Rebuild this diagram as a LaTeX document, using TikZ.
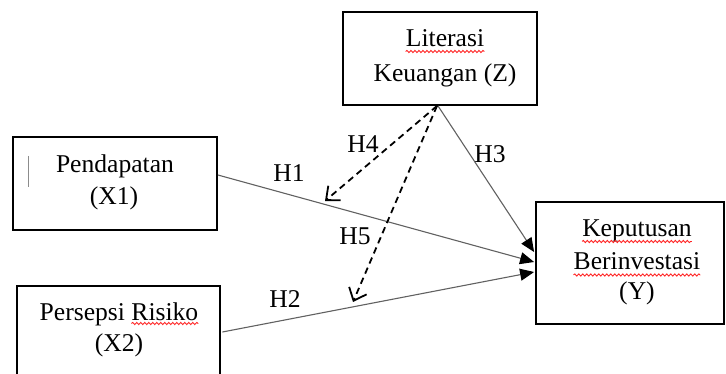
\documentclass[tikz,border=0pt]{standalone}
\usepackage{fontspec}
\setmainfont{Liberation Serif}
\usetikzlibrary{arrows.meta,calc,decorations.pathmorphing}

\tikzset{
  varbox/.style={draw=black, line width=1.8pt, inner sep=0pt, fill=none},
  txt/.style={inner sep=0pt, anchor=base, font=\fontsize{25.6}{30}\selectfont},
  hlabel/.style={inner sep=0pt, anchor=base, font=\fontsize{25.6}{30}\selectfont},
  effect/.style={draw=black!62, line width=1.1pt,
    -{Triangle[length=14pt,width=12pt,color=black]}},
  moderate/.style={draw=black, line width=1.8pt, dash pattern=on 6.5pt off 4.5pt,
    -{Straight Barb[length=11pt,width=19pt,line width=1.8pt]}},
  spellwave/.style={draw=red!85, line width=0.9pt,
    decorate, decoration={snake, segment length=4pt, amplitude=1.1pt}},
}

\begin{document}
\begin{tikzpicture}[x=1pt,y=-1pt]
\useasboundingbox (0,0) rectangle (726,374);
\clip (0,0) rectangle (726,374);

% variable boxes
\node[varbox, minimum width=194pt, minimum height=93pt] (z) at (440,58.5) {};
\node[varbox, minimum width=204pt, minimum height=93pt] (x1) at (115,183.5) {};
\node[varbox, minimum width=203pt, minimum height=96pt] (x2) at (118.5,334) {};
\node[varbox, minimum width=188pt, minimum height=122pt] (y) at (630,263) {};

% box texts
\node[txt] (zl1) at (445,47) {Literasi};
\node[txt] (zl2) at (445,82) {Keuangan (Z)};
\node[txt] (x1l1) at (115,173) {Pendapatan};
\node[txt] (x1l2) at (114,205) {(X1)};
\node[txt] (x2l1) at (119,320) {Persepsi Risiko};
\node[txt] (x2l2) at (119,351) {(X2)};
\node[txt] (yl1) at (637,237) {Keputusan};
\node[txt] (yl2) at (637,270) {Berinvestasi};
\node[txt] (yl3) at (637,300) {(Y)};

% text cursor mark
\coordinate (cur1) at (28,156);
\coordinate (cur2) at (28,187);
\draw[black!45, line width=1pt] (cur1) -- (cur2);

% spelling marks
\draw[spellwave] ($(zl1.base west)+(0,4.5)$) -- ($(zl1.base east)+(0,4.5)$);
\draw[spellwave] ($(x2l1.base east)+(-67,3.5)$) -- ($(x2l1.base east)+(0,3.5)$);
\draw[spellwave] ($(yl1.base west)+(0,4.5)$) -- ($(yl1.base east)+(0,4.5)$);
\draw[spellwave] ($(yl2.base west)+(0,5)$) -- ($(yl2.base east)+(0,5)$);

% connector end points on the box borders
\coordinate (h1s) at ($(x1.east)+(0,-8.5)$);
\coordinate (h2s) at ($(x2.east)+(1.5,-2)$);
\coordinate (h3s) at ($(z.south)+(-2,0)$);
\coordinate (mods) at ($(z.south)+(-3,0)$);
\coordinate (h3e) at ($(y.west)+(-1,-11)$);
\coordinate (h1e) at ($(y.west)+(-1,-1)$);
\coordinate (h2e) at ($(y.west)+(-1,9)$);
\coordinate (h4e) at (325,201);
\coordinate (h5e) at (353,302);

% direct effects
\draw[effect] (h1s) -- (h1e);
\draw[effect] (h2s) -- (h2e);
\draw[effect] (h3s) -- (h3e);

% moderating effects
\draw[moderate] (mods) -- (h4e);
\draw[moderate] (mods) -- (h5e);

% hypothesis labels
\node[hlabel] (lh1) at (289,182) {H1};
\node[hlabel] (lh2) at (285,308) {H2};
\node[hlabel] (lh3) at (490,163) {H3};
\node[hlabel] (lh4) at (363,153) {H4};
\node[hlabel] (lh5) at (355,245) {H5};
\end{tikzpicture}
\end{document}
